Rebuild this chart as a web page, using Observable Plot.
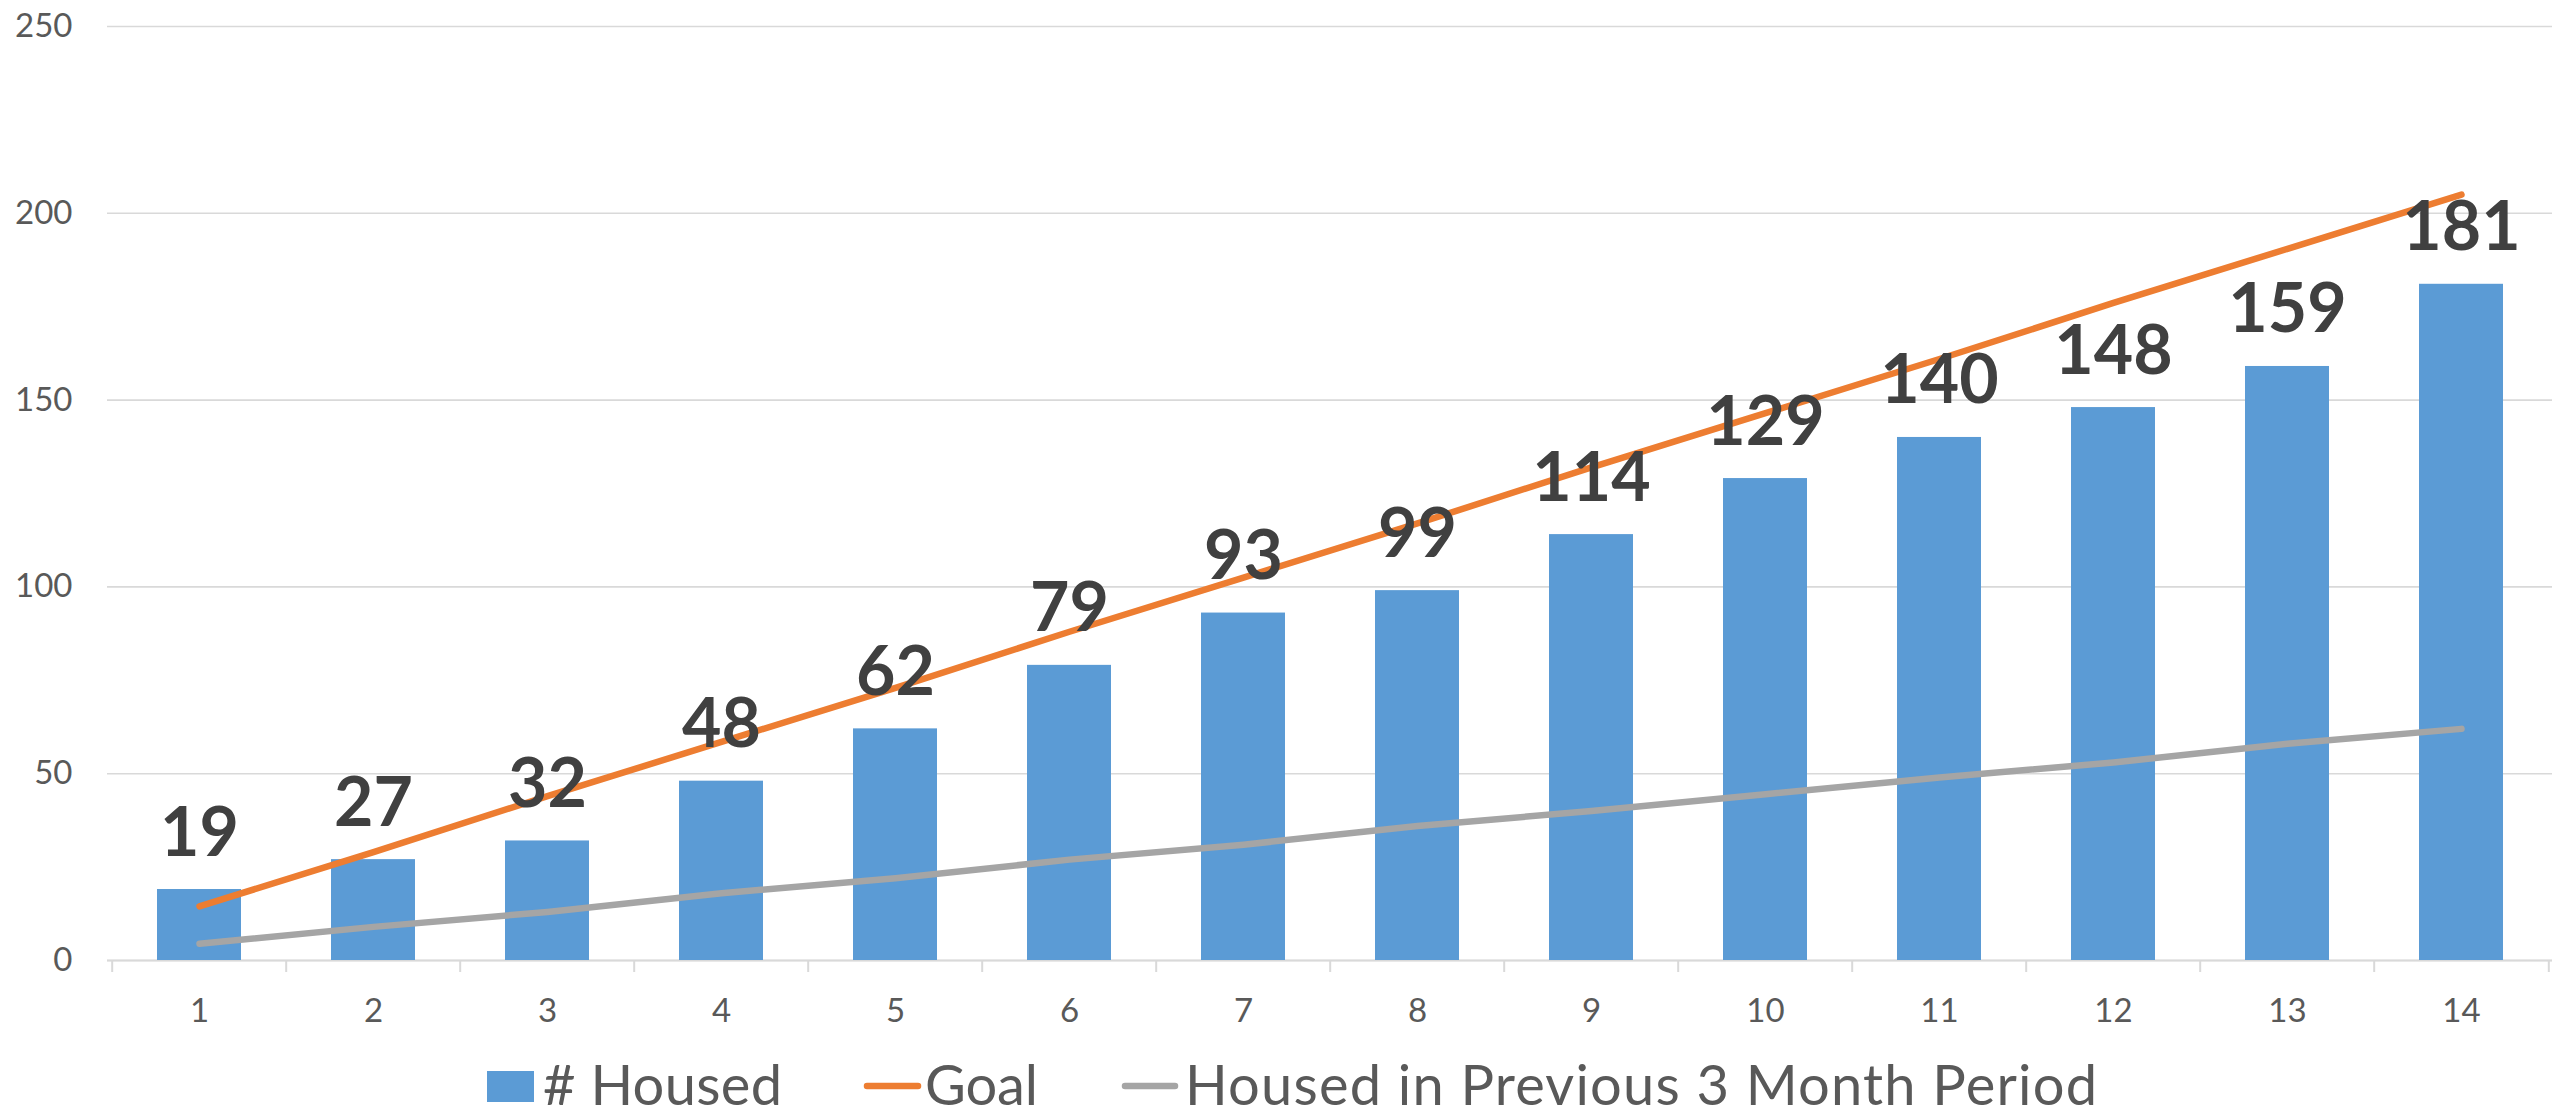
<!DOCTYPE html>
<html>
<head>
<meta charset="utf-8">
<script src="https://cdn.jsdelivr.net/npm/d3@7"></script>
<script src="https://cdn.jsdelivr.net/npm/@observablehq/plot@0.6"></script>
<style>
  html, body { margin: 0; padding: 0; background: #ffffff; }
  #wrap { width: 2569px; height: 1117px; position: relative; overflow: hidden; font-family: Lato, "Noto Sans", sans-serif; }
  #legend { display: block; }
</style>
</head>
<body>
<div id="wrap"></div>
<script>
// ---- data ----
const periods = [1, 2, 3, 4, 5, 6, 7, 8, 9, 10, 11, 12, 13, 14];
const housed  = [19, 27, 32, 48, 62, 79, 93, 99, 114, 129, 140, 148, 159, 181];
const goal    = [14.5, 29, 44, 58.5, 73, 88, 102.5, 117, 132, 146.5, 161, 176, 190.5, 205];
const prev3   = [4.5, 9, 13, 18, 22, 27, 31, 36, 40, 44.5, 49, 53, 58, 62];
const yTicks  = [0, 50, 100, 150, 200, 250];
const seriesNames = ["# Housed", "Goal", "Housed in Previous 3 Month Period"];

// ---- table for the library ----
const rows = periods.map((p, i) => ({period: p, housed: housed[i], goal: goal[i], prev3: prev3[i]}));

const W = 2569, H = 1040;
const mL = 107, mR = 17, mT = 26, mB = 80;
const step = (W - mL - mR) / periods.length;

const blue = "#5B9BD5", orange = "#ED7D31", gray = "#A5A5A5", grid = "#D9D9D9";

const chart = Plot.plot({
  width: W,
  height: H,
  marginLeft: mL,
  marginRight: mR,
  marginTop: mT,
  marginBottom: mB,
  style: {fontFamily: "Lato, 'Noto Sans', sans-serif", background: "#ffffff", overflow: "visible"},
  x: {type: "band", domain: periods, paddingInner: 0.52, paddingOuter: 0.26, label: null},
  y: {domain: [0, 250], label: null},
  marks: [
    Plot.gridY(yTicks, {stroke: grid, strokeOpacity: 1, strokeWidth: 1.6}),
    Plot.ruleY([0], {stroke: grid, strokeWidth: 2}),
    Plot.ruleX(periods, {x: d => d, y1: 0, y2: 0, insetBottom: -12, dx: -step / 2, stroke: grid, strokeWidth: 2}),
    Plot.ruleX(periods.slice(-1), {x: d => d, y1: 0, y2: 0, insetBottom: -12, dx: step / 2, stroke: grid, strokeWidth: 2}),
    Plot.axisY({ticks: yTicks, tickSize: 0, tickPadding: 35, fontSize: 33, color: "#595959", label: null}),
    Plot.axisX({tickSize: 0, tickPadding: 38, fontSize: 33, color: "#595959", label: null}),
    Plot.barY(rows, {x: "period", y: "housed", fill: blue}),
    Plot.line(rows, {x: "period", y: "goal", stroke: orange, strokeWidth: 6.5, strokeLinecap: "round", strokeLinejoin: "round"}),
    Plot.line(rows, {x: "period", y: "prev3", stroke: gray, strokeWidth: 6.5, strokeLinecap: "round", strokeLinejoin: "round"}),
    Plot.text(rows, {x: "period", y: "housed", text: d => String(d.housed), lineAnchor: "bottom", dy: -34,
      fontSize: 68, fontWeight: "bold", fill: "#404040", textAnchor: "middle"})
  ]
});
document.getElementById("wrap").appendChild(chart);

// ---- legend below the chart ----
const lg = d3.select("#wrap").append("svg")
  .attr("id", "legend")
  .attr("width", W)
  .attr("height", 1117 - H)
  .style("font-family", "Lato, 'Noto Sans', sans-serif");
const base = 65, mid = 46, fs = 56;
lg.append("rect").attr("x", 487).attr("y", 31).attr("width", 47).attr("height", 31).attr("fill", blue);
lg.append("text").attr("x", 543).attr("y", base).attr("font-size", fs).attr("fill", "#595959")
  .attr("textLength", 239).attr("lengthAdjust", "spacing").text(seriesNames[0]);
lg.append("line").attr("x1", 867).attr("x2", 918).attr("y1", mid).attr("y2", mid)
  .attr("stroke", orange).attr("stroke-width", 6.5).attr("stroke-linecap", "round");
lg.append("text").attr("x", 925).attr("y", base).attr("font-size", fs).attr("fill", "#595959")
  .attr("textLength", 113).attr("lengthAdjust", "spacing").text(seriesNames[1]);
lg.append("line").attr("x1", 1125).attr("x2", 1175).attr("y1", mid).attr("y2", mid)
  .attr("stroke", gray).attr("stroke-width", 6.5).attr("stroke-linecap", "round");
lg.append("text").attr("x", 1185).attr("y", base).attr("font-size", fs).attr("fill", "#595959")
  .attr("textLength", 912).attr("lengthAdjust", "spacing").text(seriesNames[2]);
</script>
</body>
</html>
